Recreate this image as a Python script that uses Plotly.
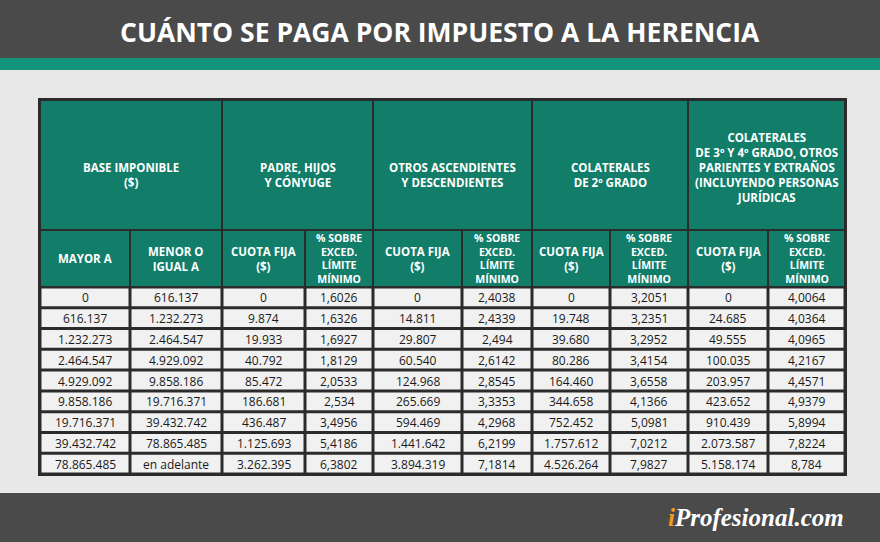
import plotly.graph_objects as go

title = "CUÁNTO SE PAGA POR IMPUESTO A LA HERENCIA"

group_headers = ["BASE IMPONIBLE<br>($)", "PADRE, HIJOS<br>Y CÓNYUGE",
                 "OTROS ASCENDIENTES<br>Y DESCENDIENTES", "COLATERALES<br>DE 2º GRADO",
                 "COLATERALES<br>DE 3º Y 4º GRADO, OTROS<br>PARIENTES Y EXTRAÑOS<br>(INCLUYENDO PERSONAS<br>JURÍDICAS"]
sub_headers = ["MAYOR A", "MENOR O<br>IGUAL A",
               "CUOTA FIJA<br>($)", "% SOBRE<br>EXCED.<br>LÍMITE<br>MÍNIMO",
               "CUOTA FIJA<br>($)", "% SOBRE<br>EXCED.<br>LÍMITE<br>MÍNIMO",
               "CUOTA FIJA<br>($)", "% SOBRE<br>EXCED.<br>LÍMITE<br>MÍNIMO",
               "CUOTA FIJA<br>($)", "% SOBRE<br>EXCED.<br>LÍMITE<br>MÍNIMO"]

mayor_a = ["0", "616.137", "1.232.273", "2.464.547", "4.929.092", "9.858.186", "19.716.371", "39.432.742", "78.865.485"]
menor_igual = ["616.137", "1.232.273", "2.464.547", "4.929.092", "9.858.186", "19.716.371", "39.432.742", "78.865.485", "en adelante"]
padre_cuota = ["0", "9.874", "19.933", "40.792", "85.472", "186.681", "436.487", "1.125.693", "3.262.395"]
padre_pct = ["1,6026", "1,6326", "1,6927", "1,8129", "2,0533", "2,534", "3,4956", "5,4186", "6,3802"]
otros_cuota = ["0", "14.811", "29.807", "60.540", "124.968", "265.669", "594.469", "1.441.642", "3.894.319"]
otros_pct = ["2,4038", "2,4339", "2,494", "2,6142", "2,8545", "3,3353", "4,2968", "6,2199", "7,1814"]
col2_cuota = ["0", "19.748", "39.680", "80.286", "164.460", "344.658", "752.452", "1.757.612", "4.526.264"]
col2_pct = ["3,2051", "3,2351", "3,2952", "3,4154", "3,6558", "4,1366", "5,0981", "7,0212", "7,9827"]
col3_cuota = ["0", "24.685", "49.555", "100.035", "203.957", "423.652", "910.439", "2.073.587", "5.158.174"]
col3_pct = ["4,0064", "4,0364", "4,0965", "4,2167", "4,4571", "4,9379", "5,8994", "7,8224", "8,784"]

columns = [mayor_a, menor_igual, padre_cuota, padre_pct, otros_cuota, otros_pct,
           col2_cuota, col2_pct, col3_cuota, col3_pct]

# layout geometry (pixels)
col_edges = [40, 130, 222, 305, 373, 462, 532, 610, 688, 768, 845]
group_spans = [(0, 2), (2, 4), (4, 6), (6, 8), (8, 10)]
y_top, y_mid, y_sub = 100, 230, 287
row_h = (474 - y_sub) / 9
GREEN = "#127d68"
DARK = "#2b2b2b"
FONT = "Open Sans"

shapes = []
ann = []

def rect(x0, y0, x1, y1, fill, line=None, w=0):
    shapes.append(dict(type="rect", xref="x", yref="y", x0=x0, y0=y0, x1=x1, y1=y1,
                       fillcolor=fill, line=dict(color=line or fill, width=w), layer="below"))

def text(x, y, s, size=11, color="white", bold=True, anchor="center"):
    ann.append(dict(x=x, y=y, xref="x", yref="y", text=f"<b>{s}</b>" if bold else s,
                    showarrow=False, xanchor=anchor, yanchor="middle",
                    font=dict(family=FONT, size=size, color=color)))

# background bands
rect(0, 0, 880, 58, "#4a4a4a")
rect(0, 58, 880, 70, "#12957a")
rect(0, 70, 880, 493, "#e8e8e8")
rect(0, 493, 880, 542, "#4a4a4a")
text(440, 32, title, size=26.5)
ann.append(dict(x=846, y=517, xref="x", yref="y", showarrow=False, xanchor="right", yanchor="middle",
                text="<i><b><span style='color:#f29a1f'>i</span>Profesional.com</b></i>",
                font=dict(family="Liberation Serif", size=25, color="white")))

# table frame
rect(col_edges[0] - 2, y_top - 2, col_edges[-1] + 2, 476, DARK)

for (a, b), h in zip(group_spans, group_headers):
    rect(col_edges[a] + 1, y_top + 1, col_edges[b] - 1, y_mid - 1, GREEN)
    ty = (y_top + y_mid) / 2 + (10 if h.count("<br>") == 1 else 2)
    text((col_edges[a] + col_edges[b]) / 2, ty, h, size=11.5)

for i, h in enumerate(sub_headers):
    rect(col_edges[i] + 1, y_mid + 1, col_edges[i + 1] - 1, y_sub - 1, GREEN)
    text((col_edges[i] + col_edges[i + 1]) / 2, (y_mid + y_sub) / 2, h,
         size=11.5 if i < 3 or i % 2 == 0 else 10.5)

for i, col in enumerate(columns):
    cx = (col_edges[i] + col_edges[i + 1]) / 2
    for r, v in enumerate(col):
        y0 = y_sub + r * row_h
        rect(col_edges[i] + 1.5, y0 + 1.5, col_edges[i + 1] - 1.5, y0 + row_h - 1.5, "#f1f1f1")
        text(cx, y0 + row_h / 2 + 0.5, v, size=12, color="#1a1a1a", bold=False)

fig = go.Figure()
fig.update_layout(width=880, height=542, margin=dict(l=0, r=0, t=0, b=0),
                  paper_bgcolor="#e8e8e8", plot_bgcolor="#e8e8e8",
                  xaxis=dict(range=[0, 880], visible=False, fixedrange=True),
                  yaxis=dict(range=[542, 0], visible=False, fixedrange=True),
                  shapes=shapes, annotations=ann, showlegend=False)
fig.write_html("out.html", config={"displayModeBar": False},
               post_script="document.body.style.margin='0';")
